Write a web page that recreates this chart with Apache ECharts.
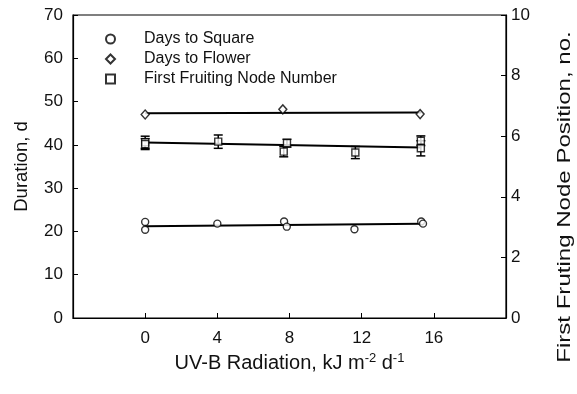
<!DOCTYPE html>
<html>
<head>
<meta charset="utf-8">
<script src="https://cdn.jsdelivr.net/npm/echarts@6/dist/echarts.min.js"></script>
<style>
  html, body { margin: 0; padding: 0; background: #fff; }
  #chart { width: 577px; height: 394px; }
</style>
</head>
<body>
<div id="chart"></div>
<script>
// UV-B dose tick values (kJ m-2 d-1)
const uvTicks = [0, 4, 8, 12, 16];

// Days to square (left axis, d)
const squareX = [0, 0, 4.0, 7.7, 7.85, 11.6, 15.3, 15.4];
const squareY = [22.2, 20.4, 21.8, 22.3, 21.1, 20.5, 22.3, 21.8];

// Days to flower (left axis, d)
const flowerX = [0, 7.63, 15.24];
const flowerY = [47.0, 48.2, 47.1];

// First fruiting node number (right axis) with standard errors
const nodeX = [0, 0, 4.05, 7.86, 7.68, 11.65, 15.28, 15.28];
const nodeY = [5.80, 5.74, 5.82, 5.77, 5.49, 5.46, 5.85, 5.60];
const nodeErr = [0.2, 0.18, 0.22, 0.13, 0.17, 0.2, 0.16, 0.25];

// Regression lines: [dose, value] at the two ends of each fit
const squareFit = [[0, 21.2], [15.3, 21.8]];
const flowerFit = [[0, 47.3], [15.3, 47.5]];
const nodeFit = [[0, 5.79], [15.3, 5.63]];

const FONT = 'Liberation Sans, Arial, Helvetica, sans-serif';
const zip = (xs, ys) => xs.map((x, i) => [x, ys[i]]);

const openMarker = {
  color: '#fff',
  borderColor: '#000',
  borderWidth: 1.4
};
const fitLine = { color: '#000', width: 2 };

const chart = echarts.init(document.getElementById('chart'), null, { renderer: 'canvas' });

chart.setOption({
  animation: false,
  backgroundColor: '#fff',
  grid: {
    left: 73, right: 71, top: 15, bottom: 76,
    show: true, borderColor: '#000', borderWidth: 1.2, backgroundColor: 'transparent'
  },
  legend: {
    data: ['Days to Square', 'Days to Flower', 'First Fruiting Node Number'],
    orient: 'vertical',
    left: 100, top: 26,
    itemWidth: 9, itemHeight: 9, itemGap: 4,
    formatter: name => '{gap|}' + name,
    textStyle: {
      fontFamily: FONT, fontSize: 16, color: '#111', lineHeight: 16,
      rich: { gap: { width: 24 } }
    }
  },
  xAxis: {
    type: 'value', min: -4, max: 20, interval: 4,
    name: '{a|UV-B Radiation, kJ m}{s|-2}{a| d}{s|-1}',
    nameLocation: 'middle', nameGap: 31,
    nameTextStyle: {
      rich: {
        a: { fontFamily: FONT, fontSize: 20, color: '#111', lineHeight: 24 },
        s: { fontFamily: FONT, fontSize: 13, color: '#111', lineHeight: 24, verticalAlign: 'top' }
      }
    },
    axisLine: { onZero: false, lineStyle: { color: '#000', width: 1.2 } },
    axisTick: { inside: true, length: 5, lineStyle: { color: '#000' }, customValues: uvTicks },
    axisLabel: { fontFamily: FONT, fontSize: 17, color: '#111', margin: 12, customValues: uvTicks },
    splitLine: { show: false }
  },
  yAxis: [
    {
      type: 'value', min: 0, max: 70, interval: 10, position: 'left',
      name: 'Duration, d', nameLocation: 'middle', nameGap: 42,
      nameTextStyle: { fontFamily: FONT, fontSize: 18.5, color: '#111' },
      axisLine: { show: true, onZero: false, lineStyle: { color: '#000', width: 1.2 } },
      axisTick: { inside: true, length: 5, lineStyle: { color: '#000' } },
      axisLabel: { fontFamily: FONT, fontSize: 17, color: '#111', margin: 10 },
      splitLine: { show: false }
    },
    {
      type: 'value', min: 0, max: 10, interval: 2, position: 'right',
      axisLine: { show: true, onZero: false, lineStyle: { color: '#000', width: 1.2 } },
      axisTick: { inside: true, length: 5, lineStyle: { color: '#000' } },
      axisLabel: { fontFamily: FONT, fontSize: 17, color: '#111', margin: 5 },
      splitLine: { show: false }
    }
  ],
  graphic: [{
    type: 'text',
    x: 565, y: 197,
    rotation: Math.PI / 2,
    scaleX: 1.3,
    style: {
      text: 'First Fruting Node Position, no.',
      fontFamily: FONT, fontSize: 18.5, fill: '#111',
      align: 'center', verticalAlign: 'middle'
    }
  }],
  series: [
    {
      type: 'line', data: squareFit, showSymbol: false, lineStyle: fitLine, z: 2, silent: true
    },
    {
      type: 'line', data: flowerFit, showSymbol: false, lineStyle: fitLine, z: 2, silent: true
    },
    {
      type: 'line', data: nodeFit, yAxisIndex: 1, showSymbol: false, lineStyle: fitLine, z: 2, silent: true
    },
    {
      type: 'custom', yAxisIndex: 1, z: 3, silent: true,
      data: nodeX.map((x, i) => [x, nodeY[i], nodeErr[i]]),
      renderItem: function (params, api) {
        const x = api.value(0), y = api.value(1), e = api.value(2);
        const hi = api.coord([x, y + e]);
        const lo = api.coord([x, y - e]);
        const cap = 4.5;
        const st = { stroke: '#000', lineWidth: 1.5 };
        return {
          type: 'group',
          children: [
            { type: 'line', shape: { x1: hi[0], y1: hi[1], x2: lo[0], y2: lo[1] }, style: st },
            { type: 'line', shape: { x1: hi[0] - cap, y1: hi[1], x2: hi[0] + cap, y2: hi[1] }, style: st },
            { type: 'line', shape: { x1: lo[0] - cap, y1: lo[1], x2: lo[0] + cap, y2: lo[1] }, style: st }
          ]
        };
      }
    },
    {
      name: 'Days to Square', type: 'scatter', data: zip(squareX, squareY),
      symbol: 'circle', symbolSize: 7, itemStyle: openMarker, z: 5
    },
    {
      name: 'Days to Flower', type: 'scatter', data: zip(flowerX, flowerY),
      symbol: 'diamond', symbolSize: [8, 9], itemStyle: openMarker, z: 5
    },
    {
      name: 'First Fruiting Node Number', type: 'scatter', yAxisIndex: 1, data: zip(nodeX, nodeY),
      symbol: 'rect', symbolSize: 7, itemStyle: openMarker, z: 5
    }
  ]
});
</script>
</body>
</html>
